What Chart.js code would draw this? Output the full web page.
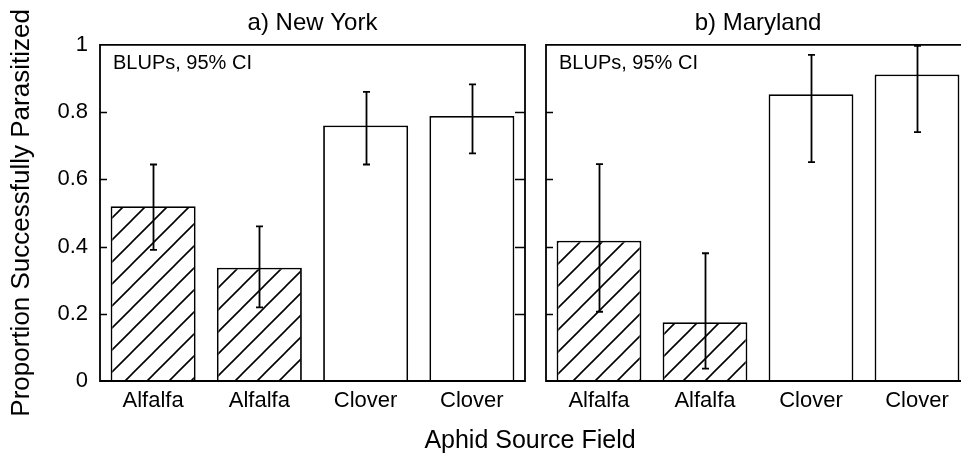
<!DOCTYPE html>
<html>
<head>
<meta charset="utf-8">
<script src="https://cdn.jsdelivr.net/npm/chart.js@4.4.1/dist/chart.umd.min.js"></script>
<style>
  html, body { margin: 0; padding: 0; background: #fff; overflow: hidden; }
  #wrap { position: relative; width: 961px; height: 456px; overflow: hidden; }
  #nyChart { position: absolute; left: 0; top: 0; }
  #mdChart { position: absolute; left: 536px; top: 0; }
  #xTitle {
    position: absolute; left: 330px; width: 400px; top: 425px;
    text-align: center; font: 25px "Liberation Sans", Arial, sans-serif; color: #000;
  }
</style>
</head>
<body>
<div id="wrap">
  <canvas id="nyChart" width="540" height="456"></canvas>
  <canvas id="mdChart" width="440" height="456"></canvas>
  <div id="xTitle">Aphid Source Field</div>
</div>
<script>
const categories = ["Alfalfa", "Alfalfa", "Clover", "Clover"];
const hatched = [true, true, false, false];
const yTicks = [0, 0.2, 0.4, 0.6, 0.8, 1];
const yTickLabels = ["0", "0.2", "0.4", "0.6", "0.8", "1"];

// New York
const nyMeans = [0.52, 0.337, 0.76, 0.788];
const nyLower = [0.39, 0.219, 0.644, 0.677];
const nyUpper = [0.644, 0.46, 0.86, 0.882];

// Maryland
const mdMeans = [0.417, 0.175, 0.853, 0.912];
const mdLower = [0.206, 0.037, 0.651, 0.74];
const mdUpper = [0.645, 0.38, 0.97, 0.997];

const FONT = '"Liberation Sans", Arial, sans-serif';

// diagonal hatch "/"
function makeHatch() {
  const s = 22;
  const c = document.createElement("canvas");
  c.width = s; c.height = s;
  const g = c.getContext("2d");
  g.fillStyle = "#fff";
  g.fillRect(0, 0, s, s);
  g.strokeStyle = "#000";
  g.lineWidth = 1.6;
  g.beginPath();
  g.moveTo(-2, s + 2); g.lineTo(s + 2, -2);
  g.moveTo(-3, 3); g.lineTo(3, -3);
  g.moveTo(s - 3, s + 3); g.lineTo(s + 3, s - 3);
  g.stroke();
  return g.createPattern(c, "repeat");
}
const hatch = makeHatch();

const errorBars = {
  id: "errorBars",
  afterDatasetsDraw(chart) {
    const ctx = chart.ctx;
    const y = chart.scales.y;
    const ds = chart.data.datasets[0];
    const meta = chart.getDatasetMeta(0);
    ctx.save();
    ctx.strokeStyle = "#000";
    ctx.lineWidth = 1.8;
    meta.data.forEach((bar, i) => {
      const x = Math.round(bar.x) + 0.5;
      const top = y.getPixelForValue(ds.upper[i]);
      const bot = y.getPixelForValue(ds.lower[i]);
      ctx.beginPath();
      ctx.moveTo(x, top); ctx.lineTo(x, bot);
      ctx.moveTo(x - 3.5, top); ctx.lineTo(x + 3.5, top);
      ctx.moveTo(x - 3.5, bot); ctx.lineTo(x + 3.5, bot);
      ctx.stroke();
    });
    ctx.restore();
  }
};

const frame = {
  id: "frame",
  afterDraw(chart, args, opts) {
    const ctx = chart.ctx;
    const a = chart.chartArea;
    const y = chart.scales.y;
    ctx.save();
    ctx.strokeStyle = "#000";
    ctx.lineWidth = 1.8;
    ctx.beginPath();
    if (opts.right) {
      ctx.moveTo(a.left, a.top); ctx.lineTo(a.left, a.bottom);
      ctx.lineTo(a.right, a.bottom); ctx.lineTo(a.right, a.top);
      ctx.closePath();
    } else {
      ctx.moveTo(a.right + 40, a.top); ctx.lineTo(a.left, a.top);
      ctx.lineTo(a.left, a.bottom); ctx.lineTo(a.right + 40, a.bottom);
    }
    ctx.stroke();
    ctx.lineWidth = 1.3;
    ctx.beginPath();
    yTicks.slice(1, -1).forEach(v => {
      const py = Math.round(y.getPixelForValue(v)) + 0.5;
      ctx.moveTo(a.left, py); ctx.lineTo(a.left + 7, py);
      if (opts.right) { ctx.moveTo(a.right - 10, py); ctx.lineTo(a.right, py); }
    });
    ctx.stroke();
    ctx.fillStyle = "#000";
    ctx.font = "20px " + FONT;
    ctx.textBaseline = "middle";
    ctx.fillText("BLUPs, 95% CI", a.left + 13, a.top + 19);
    ctx.restore();
  }
};

function makeChart(id, title, means, lower, upper, leftPanel) {
  return new Chart(document.getElementById(id), {
    type: "bar",
    data: {
      labels: categories,
      datasets: [{
        data: means,
        lower: lower,
        upper: upper,
        backgroundColor: hatched.map(h => h ? hatch : "#fff"),
        borderColor: "#000",
        borderWidth: 1.8,
        categoryPercentage: 0.8,
        barPercentage: 1
      }]
    },
    options: {
      responsive: false,
      animation: false,
      layout: { padding: leftPanel ? { left: 0, right: 15 } : { left: 10, right: 6 } },
      plugins: {
        legend: { display: false },
        tooltip: { enabled: false },
        frame: { right: leftPanel },
        title: {
          display: true,
          text: title,
          fullSize: false,
          color: "#000",
          font: { family: FONT, size: 24, weight: "normal" },
          padding: { top: 9, bottom: 7 }
        }
      },
      scales: {
        x: {
          grid: { display: false, drawTicks: false },
          border: { display: false },
          ticks: { color: "#000", font: { family: FONT, size: 22 }, padding: 7 },
          afterFit(s) { s.height = 75; }
        },
        y: {
          display: leftPanel,
          min: 0,
          max: 1,
          grid: { display: false, drawTicks: false },
          border: { display: false },
          ticks: {
            color: "#000",
            font: { family: FONT, size: 22 },
            padding: 12,
            callback: (v, i) => yTickLabels[i]
          },
          afterBuildTicks(s) { s.ticks = yTicks.map(v => ({ value: v })); },
          title: {
            display: true,
            text: "Proportion Successfully Parasitized",
            color: "#000",
            font: { family: FONT, size: 26 },
            padding: { top: 6, bottom: 0 }
          },
          afterFit(s) { if (leftPanel) s.width = 100; }
        }
      }
    },
    plugins: [errorBars, frame]
  });
}

makeChart("nyChart", "a) New York", nyMeans, nyLower, nyUpper, true);
makeChart("mdChart", "b) Maryland", mdMeans, mdLower, mdUpper, false);
</script>
</body>
</html>
